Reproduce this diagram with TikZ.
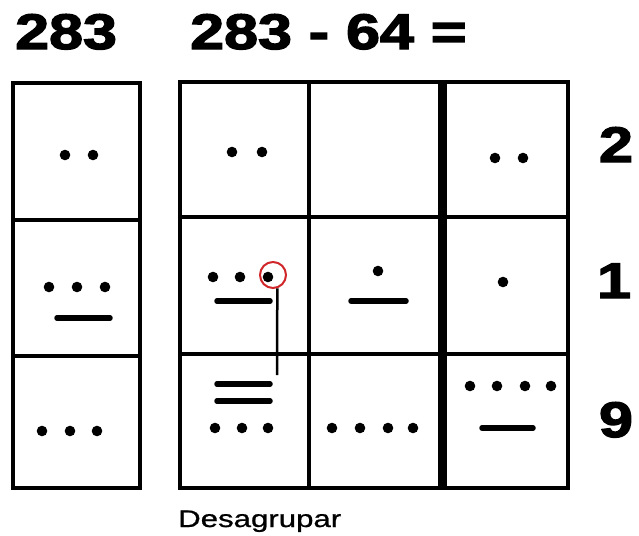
\documentclass[tikz,border=0pt]{standalone}
\usepackage{fontspec}
\setmainfont{Liberation Sans}
\newfontfamily\heavyfont[FakeBold=2.5]{Liberation Sans Bold}
\newfontfamily\notefont[FakeBold=0.8]{Liberation Sans}
\usetikzlibrary{positioning}
\definecolor{mark}{HTML}{D0262A}
\tikzset{
  gridline/.style={line width=3.5pt},
  placeline/.style={line width=9pt},
  bar/.style={line width=5.5pt,line cap=round},
  bignum/.style={font=\fontsize{50}{50}\heavyfont,inner sep=0pt},
  caption/.style={font=\fontsize{24}{24}\notefont,inner sep=0pt},
}
\newcommand{\wide}[1]{\scalebox{1.22}[1]{#1}}

\begin{document}
\begin{tikzpicture}[x=1pt,y=-1pt]
\useasboundingbox (0,0) rectangle (639,535);
% headings
\node[bignum,anchor=base west] (num) at (15,49) {\wide{283}};
\node[bignum,anchor=base west] (sub) at (190,49) {\wide{283 - 64 =}};
% left column
\draw[gridline] (13,83) rectangle (140,488);
\draw[gridline] (13,220) -- (140,220);
\draw[gridline] (13,356) -- (140,356);
% main grid
\draw[gridline] (180,82) rectangle (568,488);
\draw[gridline] (180,217) -- (568,217);
\draw[gridline] (180,354) -- (568,354);
\draw[gridline] (309,82) -- (309,488);
\draw[placeline] (442,82) -- (442,488);
% dots
\foreach \x/\y in {65/155,93/155,49/287,77/287,105/287,42/431,70/431,97/431,
  232/152,262/152,495/158,523/158,213/277,240/277,268/277,378/271,503/282,
  215/428,242/428,268/428,332/428,360/428,388/428,413/428,
  470/386,497/386,525/386,551/386}
  \fill (\x,\y) circle (5.3pt);
% bars
\foreach \a/\b/\y in {57/110/318,217/270/301,351/406/301,217/270/384,217/270/401,482/533/428}
  \draw[bar] (\a,\y) -- (\b,\y);
% regrouping
\node[circle,draw=mark,line width=2pt,minimum size=26pt,inner sep=0pt] (borrow) at (273,275) {};
\coordinate (drop) at (277,375);
\draw[line width=2.5pt] (borrow.-72) -- (drop);
% place values
\node[bignum,anchor=base] (p2) at (616,162) {\wide{2}};
\node[bignum,anchor=base] (p1) at (614,298) {\wide{1}};
\node[bignum,anchor=base] (p9) at (616,437) {\wide{9}};
\node[caption,anchor=base west] (note) at (178,527) {\scalebox{1.3}[1]{Desagrupar}};
\end{tikzpicture}
\end{document}
